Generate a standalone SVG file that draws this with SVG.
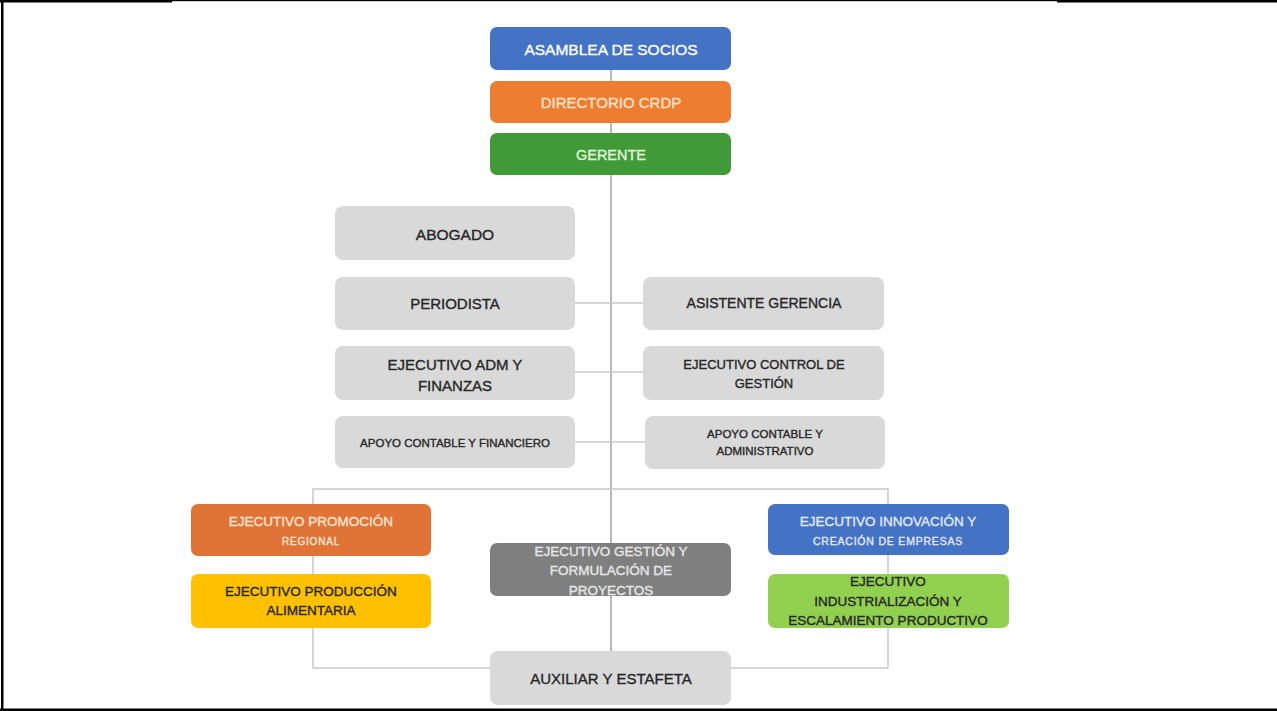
<svg xmlns="http://www.w3.org/2000/svg" width="1277" height="711" viewBox="0 0 1277 711">
<style>
.t{font-family:"Liberation Sans",Arial,sans-serif;text-anchor:middle;dominant-baseline:central;stroke-width:0.35}
.dk{fill:#262626;stroke:#262626}
.wh{fill:#ffffff;stroke:#ffffff}
.gb{fill:#d9d9d9}
.ln{stroke:#a0a0a0;stroke-width:1.5;fill:none}
.ln2{stroke:#c8c8c8;stroke-width:1.5;fill:none}
</style>
<rect x="0" y="0" width="1277" height="711" fill="#ffffff"/>
<g id="frame" fill="#000">
<rect x="0" y="0" width="172" height="2.5"/>
<rect x="172" y="0" width="886" height="1.2"/>
<rect x="1057" y="0" width="220" height="2.5"/>
<rect x="1" y="0" width="2.5" height="711"/>
<rect x="0" y="708.5" width="1277" height="2.5"/>
</g>
<g id="connectors">
<line class="ln" x1="611" y1="70" x2="611" y2="651"/>
<line class="ln2" x1="575" y1="303" x2="643" y2="303"/>
<line class="ln2" x1="575" y1="372" x2="643" y2="372"/>
<line class="ln2" x1="575" y1="442" x2="645" y2="442"/>
<polyline class="ln2" points="313,668 313,489 888,489 888,668"/>
<line class="ln2" x1="313" y1="668" x2="490" y2="668"/>
<line class="ln2" x1="731" y1="668" x2="888" y2="668"/>
</g>
<g id="asamblea">
<rect x="490" y="27" width="241" height="43" rx="7" fill="#4472c4"/>
<text class="t wh" x="611" y="49" font-size="15.5">ASAMBLEA DE SOCIOS</text>
</g>
<g id="directorio">
<rect x="490" y="81" width="241" height="42" rx="7" fill="#ed7d31"/>
<text class="t" fill="#fde3cf" stroke="#fde3cf" x="611" y="102" font-size="15">DIRECTORIO CRDP</text>
</g>
<g id="gerente">
<rect x="490" y="133" width="241" height="42" rx="7" fill="#3f9a37"/>
<text class="t" fill="#e3f3dc" stroke="#e3f3dc" x="611" y="155" font-size="14.5">GERENTE</text>
</g>
<g id="abogado">
<rect class="gb" x="335" y="206" width="240" height="54" rx="8"/>
<text class="t dk" x="455" y="234" font-size="15.5">ABOGADO</text>
</g>
<g id="periodista">
<rect class="gb" x="335" y="277" width="240" height="53" rx="8"/>
<text class="t dk" x="455" y="303" font-size="15">PERIODISTA</text>
</g>
<g id="asistente">
<rect class="gb" x="643" y="277" width="241" height="53" rx="8"/>
<text class="t dk" x="764" y="303" font-size="14">ASISTENTE GERENCIA</text>
</g>
<g id="ejec-adm">
<rect class="gb" x="335" y="346" width="240" height="54" rx="8"/>
<text class="t dk" x="455" y="364" font-size="15">EJECUTIVO ADM Y</text>
<text class="t dk" x="455" y="385" font-size="15">FINANZAS</text>
</g>
<g id="ejec-control">
<rect class="gb" x="643" y="346" width="241" height="54" rx="8"/>
<text class="t dk" x="764" y="364" font-size="13">EJECUTIVO CONTROL DE</text>
<text class="t dk" x="764" y="383" font-size="13">GESTIÓN</text>
</g>
<g id="apoyo-fin">
<rect class="gb" x="335" y="416" width="240" height="52" rx="8"/>
<text class="t dk" x="455" y="443" font-size="11.5">APOYO CONTABLE Y FINANCIERO</text>
</g>
<g id="apoyo-adm">
<rect class="gb" x="645" y="416" width="240" height="53" rx="8"/>
<text class="t dk" x="765" y="434" font-size="11.5">APOYO CONTABLE Y</text>
<text class="t dk" x="765" y="451" font-size="11.5">ADMINISTRATIVO</text>
</g>
<g id="promocion">
<rect x="191" y="504" width="240" height="52" rx="7" fill="#e07436"/>
<text class="t" fill="#fbe4d6" stroke="#fbe4d6" x="311" y="521" font-size="13.5">EJECUTIVO PROMOCIÓN</text>
<text class="t" fill="#fbe4d6" stroke="#fbe4d6" x="311" y="541" font-size="10" letter-spacing="0.8">REGIONAL</text>
</g>
<g id="produccion">
<rect x="191" y="574" width="240" height="54" rx="7" fill="#ffc000"/>
<text class="t dk" x="311" y="591" font-size="13.5">EJECUTIVO PRODUCCIÓN</text>
<text class="t dk" x="311" y="610" font-size="13.5">ALIMENTARIA</text>
</g>
<g id="gestion">
<rect x="490" y="543" width="241" height="53" rx="7" fill="#7f7f7f"/>
<text class="t" fill="#e8e8e8" stroke="#e8e8e8" x="611" y="551" font-size="13.5">EJECUTIVO GESTIÓN Y</text>
<text class="t" fill="#e8e8e8" stroke="#e8e8e8" x="611" y="570" font-size="13.5">FORMULACIÓN DE</text>
<text class="t" fill="#e8e8e8" stroke="#e8e8e8" x="611" y="590" font-size="13.5">PROYECTOS</text>
</g>
<g id="innovacion">
<rect x="768" y="504" width="241" height="51" rx="7" fill="#4472c4"/>
<text class="t" fill="#e3eaf7" stroke="#e3eaf7" x="888" y="521" font-size="13.5">EJECUTIVO INNOVACIÓN Y</text>
<text class="t" fill="#e3eaf7" stroke="#e3eaf7" x="888" y="541" font-size="10.5" letter-spacing="0.8">CREACIÓN DE EMPRESAS</text>
</g>
<g id="industrializacion">
<rect x="768" y="574" width="241" height="54" rx="7" fill="#92d050"/>
<text class="t dk" x="888" y="581" font-size="13.5">EJECUTIVO</text>
<text class="t dk" x="888" y="601" font-size="13.5">INDUSTRIALIZACIÓN Y</text>
<text class="t dk" x="888" y="620" font-size="13.5">ESCALAMIENTO PRODUCTIVO</text>
</g>
<g id="auxiliar">
<rect class="gb" x="490" y="651" width="241" height="54" rx="8"/>
<text class="t dk" x="611" y="678" font-size="15">AUXILIAR Y ESTAFETA</text>
</g>
</svg>
